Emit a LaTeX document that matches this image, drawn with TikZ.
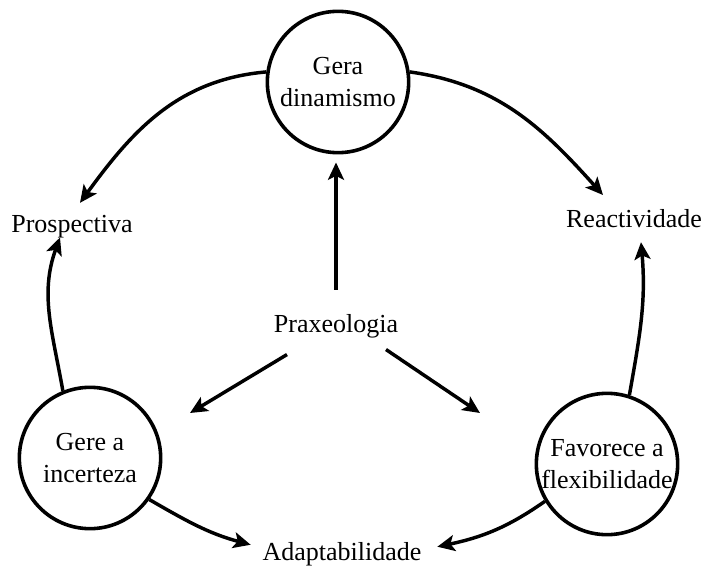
\documentclass[tikz,border=0pt]{standalone}
\usepackage{fontspec}
\setmainfont{Liberation Serif}
\usetikzlibrary{arrows.meta}
\tikzset{circ/.style={draw, circle, line width=2.7pt, minimum size=106pt, inner sep=0pt, align=center},
    lbl/.style={inner sep=2pt, anchor=base},
    arr/.style={line width=2.6pt, -{Stealth[length=13pt, width=12pt, inset=3pt]}}}

\begin{document}
\begin{tikzpicture}[x=0.75pt, y=0.75pt, font=\fontsize{19.5}{24}\selectfont]
        \useasboundingbox (0,0) rectangle (705,569);
        \node[circ] (top) at (338,487) {Gera\\dinamismo};
        \node[circ] (gere) at (90,111) {Gere a\\incerteza};
        \node[circ] (fav) at (607,105) {Favorece a\\flexibilidade};
        \node[lbl] (pro) at (72,337) {Prospectiva};
        \node[lbl] (rea) at (634,342) {Reactividade};
        \node[lbl] (prax) at (336,237) {Praxeologia};
        \node[lbl] (adap) at (342,9) {Adaptabilidade};
        \coordinate (lt) at (190,156);
        \coordinate (rt) at (480,156);
        \draw[arr] (top.172) to[out=185, in=54] ([shift={(8,9)}]pro.north);
        \draw[arr] (top.8) to[out=-8, in=132] ([shift={(-31,11)}]rea.north);
        \draw[arr] (gere.112) to[out=100, in=-110] ([shift={(-12,3)}]pro.south);
        \draw[arr] (gere.-35) to[out=-30, in=165] ([shift={(-9,9)}]adap.west);
        \draw[arr] (fav.211) to[out=215, in=12] ([shift={(13,7)}]adap.east);
        \draw[arr] (fav.72) to[out=80, in=-85] ([shift={(7,-12)}]rea.south);
        \draw[arr, shorten <=16pt, shorten >=6pt] (prax.north) -- (prax.north |- top.south);
        \draw[arr] ([shift={(-49,-14)}]prax.south) -- (lt);
        \draw[arr] ([shift={(50,-9)}]prax.south) -- (rt);
\end{tikzpicture}
\end{document}
